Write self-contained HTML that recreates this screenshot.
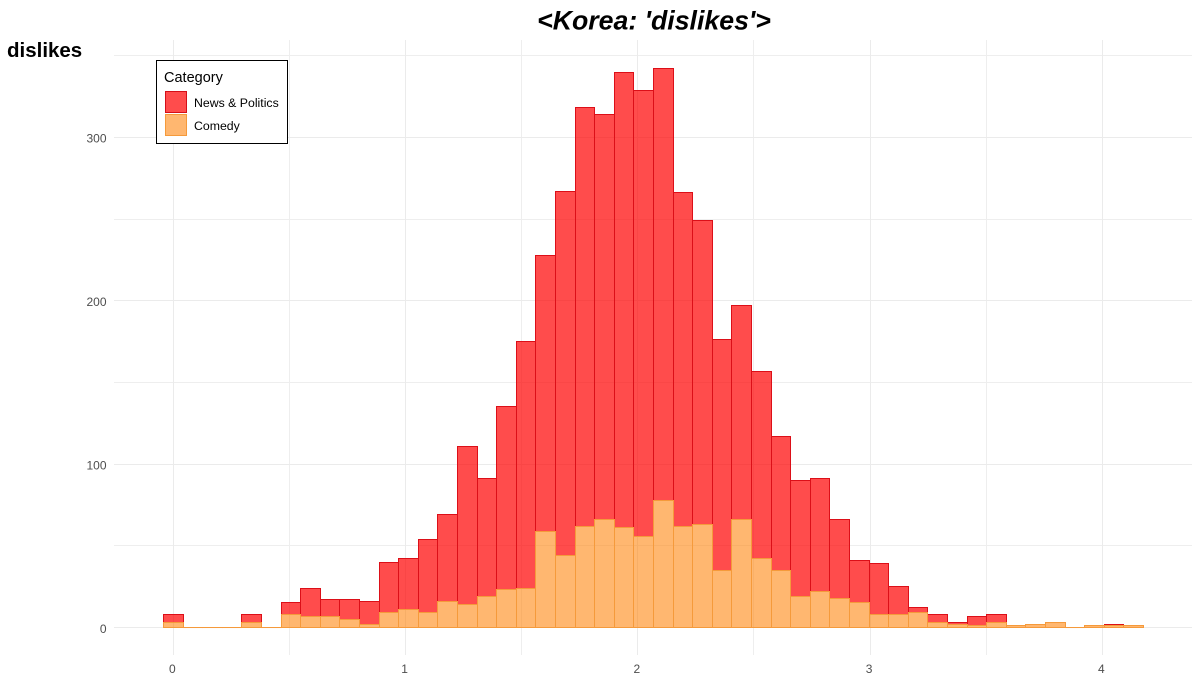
<!DOCTYPE html>
<html lang="en">
<head>
<meta charset="utf-8">
<title>Korea: dislikes</title>
<style>
html,body{margin:0;padding:0;background:#fff;}
svg{display:block;font-family:"Liberation Sans",Arial,sans-serif;}
</style>
</head>
<body>
<svg id="chart" width="1200" height="700" viewBox="0 0 1200 700" xmlns="http://www.w3.org/2000/svg">
  <rect x="0" y="0" width="1200" height="700" fill="#ffffff"/>
  <g id="grid"></g>
  <g id="bars"></g>
  <g id="x-axis"></g>
  <g id="y-axis"></g>
  <text x="654" y="29.5" text-anchor="middle" font-size="26.7" font-weight="bold" font-style="italic" fill="#000">&lt;Korea: 'dislikes'&gt;</text>
  <text x="7" y="57" font-size="20.5" font-weight="bold" fill="#000">dislikes</text>
  <g>
    <rect x="156.5" y="60.5" width="131" height="83" fill="#fff" stroke="#000" stroke-width="1"/>
    <text x="164" y="82" font-size="14.5" fill="#000">Category</text>
    <rect x="165.5" y="91.5" width="21" height="21" fill="rgba(255,0,0,0.7)" stroke="#d40f18" stroke-width="1"/>
    <text x="194" y="107" font-size="12.3" fill="#000">News &amp; Politics</text>
    <rect x="165.5" y="114.5" width="21" height="21" fill="rgba(255,127,0,0.56)" stroke="#f59a3b" stroke-width="1"/>
    <text x="194" y="130" font-size="12.3" fill="#000">Comedy</text>
  </g>
</svg>
<script>
const binWidth = 0.0844;
const newsValues = [5,0,0,0,5,0,7,17,10,12,14,31,31,45,53,97,72,112,151,169,223,256,248,279,273,264,204,186,141,131,115,82,71,69,48,26,31,17,3,5,1,6,5,0,0,0,0,0,1,0];
const comedyValues = [3,0,0,0,3,0,8,7,7,5,2,9,11,9,16,14,19,23,24,59,44,62,66,61,56,78,62,63,35,66,42,35,19,22,18,15,8,8,9,3,2,1,3,1,2,3,0,1,1,1];
const xTicks = [0,1,2,3,4];
const xMinorTicks = [0.5,1.5,2.5,3.5];
const yTicks = [0,100,200,300];
const yMinorTicks = [50,150,250,350];

const NS = 'http://www.w3.org/2000/svg';
function xScale(v){ return 173.3 + v * 232.25; }
function yScale(v){ return 627.5 - v * 1.6337; }
function snap(p){ return Math.floor(p) + 0.5; }
function make(tag, parent, attrs){
  const el = document.createElementNS(NS, tag);
  for (const k in attrs) el.setAttribute(k, attrs[k]);
  parent.appendChild(el);
  return el;
}
const grid = document.getElementById('grid');
const bars = document.getElementById('bars');
const xAxis = document.getElementById('x-axis');
const yAxis = document.getElementById('y-axis');
const plotLeft = 114, plotRight = 1192, plotTop = 40, plotBottom = 655;

yMinorTicks.forEach(function(v){
  const y = snap(yScale(v));
  const el = make('line', grid, {x1:plotLeft, x2:plotRight, y1:y, y2:y, stroke:'#eeeeee', 'stroke-width':1});
  
  
});
xMinorTicks.forEach(function(v){
  const x = snap(xScale(v));
  const el = make('line', grid, {x1:x, x2:x, y1:plotTop, y2:plotBottom, stroke:'#eeeeee', 'stroke-width':1});
  
  
});
yTicks.forEach(function(v){
  const y = snap(yScale(v));
  const line = make('line', grid, {x1:plotLeft, x2:plotRight, y1:y, y2:y, stroke:'#ebebeb', 'stroke-width':1});
  
  
  const label = make('text', yAxis, {x:106.5, y:yScale(v) + 5.3, 'text-anchor':'end', 'font-size':12, fill:'#4d4d4d'});
  label.textContent = String(v);
  
  
});
xTicks.forEach(function(v){
  const x = snap(xScale(v));
  const line = make('line', grid, {x1:x, x2:x, y1:plotTop, y2:plotBottom, stroke:'#ebebeb', 'stroke-width':1});
  
  
  const label = make('text', xAxis, {x:xScale(v) - 1, y:673, 'text-anchor':'middle', 'font-size':12, fill:'#4d4d4d'});
  label.textContent = String(v);
  
  
});

function barX(i){ return snap(xScale((i - 0.5) * binWidth)); }
newsValues.forEach(function(v, i){
  const base = comedyValues[i];
  const top = snap(yScale(base + v)), bottom = snap(yScale(base));
  const el = make('rect', bars, {x:barX(i), y:top, width:barX(i + 1) - barX(i), height:Math.max(bottom - top, 0.01),
    fill:'rgba(255,0,0,0.7)', stroke:'#dc0f18', 'stroke-width':1});
  
  
});
comedyValues.forEach(function(v, i){
  const top = snap(yScale(v)), bottom = snap(yScale(0));
  const el = make('rect', bars, {x:barX(i), y:top, width:barX(i + 1) - barX(i), height:Math.max(bottom - top, 0.01),
    fill:'rgba(255,127,0,0.56)', stroke:'#f59a3b', 'stroke-width':1});
  
  
});
</script>
</body>
</html>
